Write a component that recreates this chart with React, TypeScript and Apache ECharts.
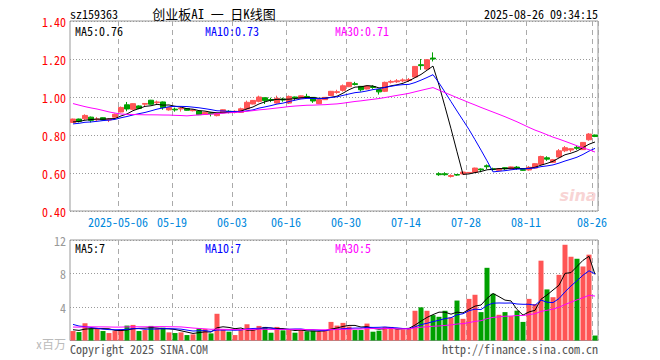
import React, { useEffect, useRef } from "react";
import * as echarts from "echarts";

// ---- data ----
const dates = [
  "2025-04-21","2025-04-22","2025-04-23","2025-04-24","2025-04-25","2025-04-28","2025-04-29","2025-04-30",
  "2025-05-06","2025-05-07","2025-05-08","2025-05-09","2025-05-12","2025-05-13","2025-05-14","2025-05-15","2025-05-16","2025-05-19","2025-05-20","2025-05-21","2025-05-22","2025-05-23","2025-05-26","2025-05-27","2025-05-28","2025-05-29","2025-05-30",
  "2025-06-03","2025-06-04","2025-06-05","2025-06-06","2025-06-09","2025-06-10","2025-06-11","2025-06-12","2025-06-13","2025-06-16","2025-06-17","2025-06-18","2025-06-19","2025-06-20","2025-06-23","2025-06-24","2025-06-25","2025-06-26","2025-06-27","2025-06-30",
  "2025-07-01","2025-07-02","2025-07-03","2025-07-04","2025-07-07","2025-07-08","2025-07-09","2025-07-10","2025-07-11","2025-07-14","2025-07-15","2025-07-16","2025-07-17","2025-07-18","2025-07-21","2025-07-22","2025-07-23","2025-07-24","2025-07-25","2025-07-28","2025-07-29","2025-07-30","2025-07-31",
  "2025-08-01","2025-08-04","2025-08-05","2025-08-06","2025-08-07","2025-08-08","2025-08-11","2025-08-12","2025-08-13","2025-08-14","2025-08-15","2025-08-18","2025-08-19","2025-08-20","2025-08-21","2025-08-22","2025-08-25","2025-08-26",
];

const labelDates = ["2025-05-06","2025-05-19","2025-06-03","2025-06-16","2025-06-30","2025-07-14","2025-07-28","2025-08-11","2025-08-26"];

const opens = [
  0.866,0.884,0.885,0.894,0.880,0.891,0.879,0.894,0.921,0.959,
  0.935,0.953,0.962,0.983,0.970,0.974,0.932,0.936,0.937,0.939,
  0.928,0.926,0.908,0.917,0.902,0.917,0.925,0.921,0.919,0.937,
  0.963,0.977,0.996,0.987,0.968,0.989,0.968,1.000,0.993,1.003,
  0.998,0.965,0.986,1.008,1.024,1.035,1.054,1.070,1.056,1.042,
  1.055,1.039,1.030,1.078,1.080,1.085,1.087,1.105,1.170,1.147,
  1.205,0.596,0.596,0.582,0.592,0.595,0.600,0.603,0.621,0.638,
  0.622,0.614,0.628,0.621,0.631,0.618,0.616,0.626,0.645,0.680,
  0.656,0.684,0.717,0.721,0.735,0.723,0.775,0.800,
];
const closes = [
  0.884,0.872,0.903,0.877,0.884,0.879,0.884,0.909,0.945,0.937,
  0.965,0.940,0.966,0.962,0.974,0.944,0.944,0.932,0.941,0.930,
  0.932,0.907,0.919,0.912,0.914,0.933,0.921,0.925,0.938,0.972,
  0.982,1.000,0.981,0.982,0.993,0.984,1.003,0.995,1.006,1.000,
  0.979,0.986,0.998,1.030,1.028,1.059,1.077,1.066,1.038,1.058,
  1.050,1.027,1.077,1.082,1.085,1.090,1.092,1.161,1.165,1.196,
  1.200,0.591,0.591,0.587,0.589,0.605,0.603,0.626,0.617,0.633,
  0.618,0.623,0.622,0.632,0.626,0.614,0.630,0.649,0.687,0.673,
  0.670,0.717,0.733,0.728,0.730,0.761,0.805,0.792,
];
const lows = [
  0.864,0.866,0.879,0.866,0.873,0.877,0.868,0.893,0.919,0.925,
  0.933,0.936,0.951,0.960,0.960,0.933,0.928,0.923,0.923,0.928,
  0.924,0.905,0.906,0.898,0.898,0.915,0.914,0.914,0.916,0.933,
  0.961,0.972,0.963,0.973,0.965,0.975,0.963,0.982,0.990,0.996,
  0.969,0.963,0.984,1.005,1.017,1.028,1.052,1.061,1.029,1.040,
  1.043,1.013,1.026,1.071,1.074,1.078,1.079,1.103,1.143,1.143,
  1.187,0.585,0.586,0.576,0.585,0.593,0.598,0.601,0.604,0.621,
  0.612,0.612,0.616,0.619,0.617,0.612,0.612,0.624,0.643,0.664,
  0.652,0.680,0.710,0.710,0.722,0.721,0.770,0.789,
];
const highs = [
  0.886,0.886,0.909,0.897,0.894,0.893,0.889,0.913,0.950,0.974,
  0.967,0.956,0.968,0.985,0.981,0.976,0.947,0.944,0.949,0.941,
  0.936,0.928,0.921,0.919,0.916,0.935,0.930,0.930,0.944,0.981,
  0.984,1.007,0.998,0.996,1.007,0.996,1.008,1.002,1.008,1.017,
  1.000,0.988,1.000,1.032,1.038,1.066,1.079,1.080,1.058,1.060,
  1.062,1.041,1.081,1.090,1.094,1.098,1.100,1.163,1.200,1.200,
  1.235,0.604,0.604,0.593,0.594,0.607,0.605,0.628,0.624,0.645,
  0.628,0.625,0.630,0.634,0.637,0.621,0.637,0.651,0.691,0.688,
  0.674,0.726,0.742,0.730,0.742,0.763,0.810,0.802,
];
// volume, millions of shares (x百万)
const volumes = [
  1.13,1.01,2.06,1.45,1.45,1.13,0.89,1.13,1.33,1.78,
  1.86,1.13,1.25,1.74,1.45,1.53,0.97,0.89,0.97,0.65,
  0.73,1.45,1.37,0.85,3.19,1.33,1.05,0.65,1.25,1.94,
  1.25,1.74,1.62,0.93,1.62,1.21,1.25,0.93,1.25,1.09,
  1.17,1.05,1.25,2.22,1.78,2.10,1.66,1.25,1.25,2.02,
  1.05,1.17,1.62,1.62,1.33,1.33,1.37,3.55,3.96,3.55,
  3.03,2.83,3.55,2.75,4.77,2.59,4.97,5.46,3.39,8.68,
  5.58,3.07,3.39,2.91,3.56,2.22,4.97,4.36,9.53,6.10,
  5.17,7.84,11.43,10.0,9.76,8.84,10.25,0.59,
];
// closes / volumes of the 29 sessions before the window, estimated from where the MA lines start
const priorCloses = [
  1.12,1.14,1.08,1.06,1.10,1.12,1.09,1.09,
  1.00,0.98,0.97,0.99,0.96,0.98,0.97,0.95,0.98,0.97,0.98,
  0.85,0.84,0.85,0.86,0.85,0.84,0.86,0.87,0.86,0.87,
];
const priorVolumes = [
  1.2,1.4,1.1,1.5,1.3,1.2,1.6,1.3,1.1,1.4,1.2,1.3,1.5,1.2,1.3,1.4,1.2,1.3,
  2.6,2.8,3.0,2.7,2.5,2.4,2.2,1.4,1.3,1.2,1.4,
];

const priceTicks = { min: 0.4, max: 1.4, interval: 0.2 };
const volTicks = { min: 0, max: 12, interval: 4 };

const RED = "#ff5555";
const GREEN = "#00a000";
const FONT = '"Noto Sans Mono CJK SC", "DejaVu Sans Mono", monospace';

function movingAverage(n: number, values: number[], prior: number[]) {
  const all = prior.concat(values);
  const off = prior.length;
  return values.map((_, i) => {
    const k = off + i;
    if (k - n + 1 < 0) return null;
    let s = 0;
    for (let j = k - n + 1; j <= k; j++) s += all[j];
    return +(s / n).toFixed(4);
  });
}

export default function App() {
  const ref = useRef<HTMLDivElement>(null);
  useEffect(() => {
    if (!ref.current) return;
    const chart = echarts.init(ref.current, undefined, { renderer: "svg" });
    const ma5 = movingAverage(5, closes, priorCloses);
    const ma10 = movingAverage(10, closes, priorCloses);
    const ma30 = movingAverage(30, closes, priorCloses);
    const vma5 = movingAverage(5, volumes, priorVolumes);
    const vma10 = movingAverage(10, volumes, priorVolumes);
    const vma30 = movingAverage(30, volumes, priorVolumes);
    const last = dates.length - 1;
    const labelIdxList = labelDates.map((d) => dates.indexOf(d));
    const labelIdx = new Set(labelIdxList);
    const isLabel = (i: number) => labelIdx.has(i);

    const candleData = dates.map((_, i) => [opens[i], closes[i], lows[i], highs[i]]);
    const volData = volumes.map((v, i) => ({
      value: v,
      itemStyle: { color: closes[i] >= opens[i] ? RED : GREEN },
    }));

    const txt = (text: string, x: number, y: number, fill: string, size = 12, align = "left", family = FONT) => ({
      type: "text",
      x,
      y,
      z: 100,
      style: {
        text,
        fill,
        font: `${size}px ${family}`,
        lineHeight: size,
        textAlign: align,
        textVerticalAlign: "middle",
        align,
        verticalAlign: "middle",
      },
    });

    const vSplit = {
      show: true,
      interval: (i: number) => isLabel(i),
      lineStyle: { color: "#aaaaaa", type: [5, 4] as any, width: 1 },
    };
    const hSplit = { show: true, lineStyle: { color: "#999999", type: [1, 2] as any, width: 1 } };

    chart.setOption({
      animation: false,
      backgroundColor: "#ffffff",
      grid: [
        { left: 70, width: 528, top: 21, height: 190, show: true, borderColor: "#999999", borderWidth: 1, backgroundColor: "transparent" },
        { left: 70, width: 528, top: 240, height: 100.5, show: true, borderColor: "#999999", borderWidth: 1, backgroundColor: "transparent" },
      ],
      xAxis: [
        {
          type: "category",
          gridIndex: 0,
          data: dates,
          boundaryGap: true,
          axisLine: { show: false },
          axisTick: { show: false },
          splitLine: vSplit,
          axisLabel: {
            interval: (i: number) => isLabel(i),
            formatter: (v: string) => (dates.indexOf(v) === labelIdxList[0] ? v : v.slice(5)),
            color: "#0088dd",
            fontFamily: FONT,
            fontSize: 12,
            margin: 4,
            padding: [0, 6, 0, 0],
          },
        },
        {
          type: "category",
          gridIndex: 1,
          data: dates,
          boundaryGap: true,
          axisLine: { show: false },
          axisTick: { show: false },
          axisLabel: { show: false },
          splitLine: vSplit,
        },
      ],
      yAxis: [
        {
          type: "value",
          gridIndex: 0,
          min: priceTicks.min,
          max: priceTicks.max,
          interval: priceTicks.interval,
          axisLine: { show: false },
          axisTick: { show: false },
          splitLine: hSplit,
          axisLabel: {
            formatter: (v: number) => v.toFixed(2),
            color: "#ff0000",
            fontFamily: FONT,
            fontSize: 12,
            margin: 4,
          },
        },
        {
          type: "value",
          gridIndex: 1,
          min: volTicks.min,
          max: volTicks.max,
          interval: volTicks.interval,
          axisLine: { show: false },
          axisTick: { show: false },
          splitLine: hSplit,
          axisLabel: {
            formatter: (v: number) => (v === 0 ? "" : String(v)),
            color: "#999999",
            fontFamily: FONT,
            fontSize: 12,
            margin: 4,
          },
        },
      ],
      series: [
        {
          type: "candlestick",
          xAxisIndex: 0,
          yAxisIndex: 0,
          data: candleData,
          barWidth: 5,
          itemStyle: { color: RED, color0: GREEN, borderColor: RED, borderColor0: GREEN, borderWidth: 1 },
        },
        { type: "line", xAxisIndex: 0, yAxisIndex: 0, data: ma5, symbol: "none", lineStyle: { color: "#000000", width: 1 } },
        { type: "line", xAxisIndex: 0, yAxisIndex: 0, data: ma10, symbol: "none", lineStyle: { color: "#0000ff", width: 1 } },
        { type: "line", xAxisIndex: 0, yAxisIndex: 0, data: ma30, symbol: "none", lineStyle: { color: "#ff00ff", width: 1 } },
        { type: "bar", xAxisIndex: 1, yAxisIndex: 1, data: volData, barWidth: 5 },
        { type: "line", xAxisIndex: 1, yAxisIndex: 1, data: vma5, symbol: "none", lineStyle: { color: "#000000", width: 1 } },
        { type: "line", xAxisIndex: 1, yAxisIndex: 1, data: vma10, symbol: "none", lineStyle: { color: "#0000ff", width: 1 } },
        { type: "line", xAxisIndex: 1, yAxisIndex: 1, data: vma30, symbol: "none", lineStyle: { color: "#ff00ff", width: 1 } },
      ],
      graphic: [
        txt("sz159363", 70, 13, "#000000"),
        txt("创业板AI 一 日K线图", 214, 13, "#000000", 13, "center"),
        txt("2025-08-26 09:34:15", 598, 13, "#000000", 12, "right"),
        txt(`MA5:${(ma5[last] as number).toFixed(2)}`, 75, 30, "#000000"),
        txt(`MA10:${(ma10[last] as number).toFixed(2)}`, 205, 30, "#0000ff"),
        txt(`MA30:${(ma30[last] as number).toFixed(2)}`, 335, 30, "#ff00ff"),
        txt(`MA5:${Math.floor(vma5[last] as number)}`, 75, 247, "#000000"),
        txt(`MA10:${Math.floor(vma10[last] as number)}`, 205, 247, "#0000ff"),
        txt(`MA30:${Math.floor(vma30[last] as number)}`, 335, 247, "#ff00ff"),
        txt("x百万", 66, 343, "#bbbbbb", 12, "right"),
        txt("Copyright 2025 SINA.COM", 70, 348, "#555555"),
        txt("http://finance.sina.com.cn", 598, 348, "#555555", 12, "right"),
        {
          type: "text",
          x: 578,
          y: 195,
          z: 1,
          style: {
            text: "sina",
            fill: "#f8d4d4",
            font: 'italic bold 16px "DejaVu Sans"',
            textAlign: "center",
            textVerticalAlign: "middle",
            align: "center",
            verticalAlign: "middle",
          },
        },
      ],
    } as any);
    return () => chart.dispose();
  }, []);
  return <div ref={ref} style={{ position: "fixed", left: 0, top: 0, width: 660, height: 360, background: "#fff" }} />;
}
